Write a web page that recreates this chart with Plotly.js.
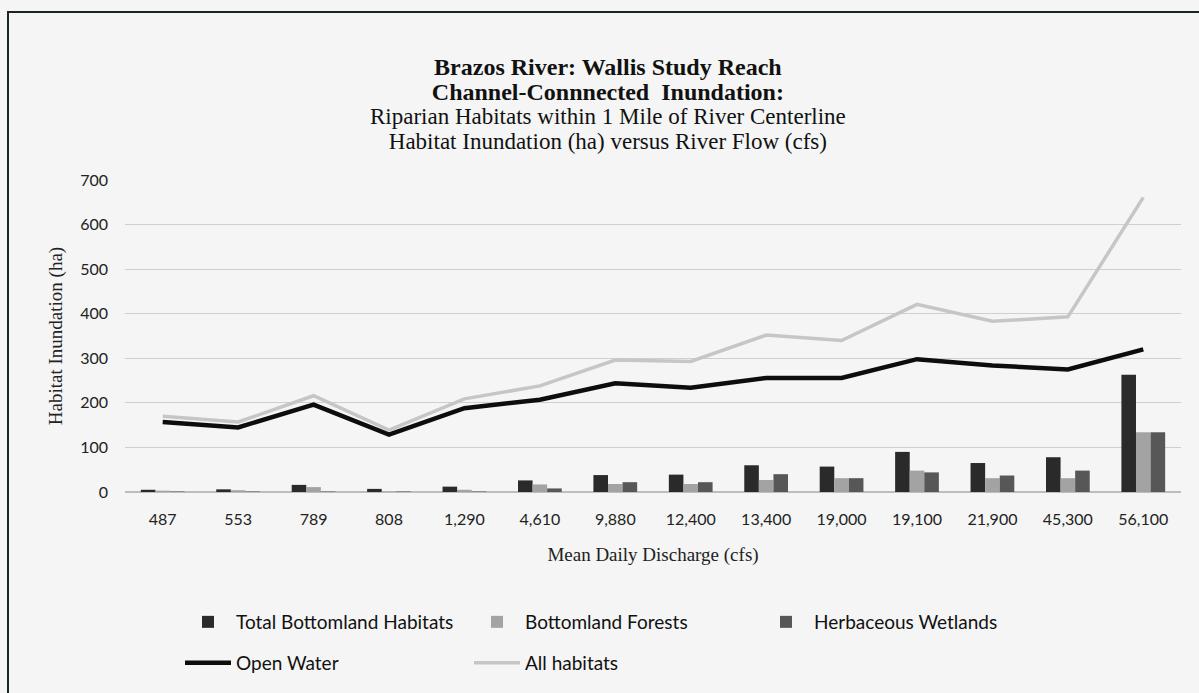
<!DOCTYPE html>
<html>
<head>
<meta charset="utf-8">
<script src="https://cdn.plot.ly/plotly-3.0.1.min.js"></script>
<style>
html,body{margin:0;padding:0;background:#f4f5f4;overflow:hidden;}
#chart{width:1199px;height:693px;}
#frame{position:absolute;left:7px;top:11px;width:1300px;height:800px;border-left:2px solid #1c2620;border-top:2px solid #1c2620;pointer-events:none;}
</style>
</head>
<body>
<div id="chart"></div>
<div id="frame"></div>
<script>
const categories = ['487','553','789','808','1,290','4,610','9,880','12,400','13,400','19,000','19,100','21,900','45,300','56,100'];
const totalBottomland = [5, 6, 16, 7, 12, 26, 38, 39, 60, 57, 90, 65, 78, 263];
const bottomlandForests = [3, 4, 11, 1, 5, 17, 18, 18, 27, 31, 48, 31, 31, 134];
const herbaceousWetlands = [1, 1, 1, 1, 1, 8, 22, 22, 40, 31, 44, 37, 48, 134];
const openWater = [157, 145, 196, 129, 188, 207, 244, 234, 256, 256, 298, 284, 275, 320];
const allHabitats = [170, 157, 216, 139, 209, 238, 296, 293, 352, 340, 421, 383, 393, 661];

const traces = [
  {type:'bar', name:'Total Bottomland Habitats', x:categories, y:totalBottomland,
   marker:{color:'#2a2a2a'}, legend:'legend'},
  {type:'bar', name:'Bottomland Forests', x:categories, y:bottomlandForests,
   marker:{color:'#a3a3a3'}, legend:'legend'},
  {type:'bar', name:'Herbaceous Wetlands', x:categories, y:herbaceousWetlands,
   marker:{color:'#575757'}, legend:'legend'},
  {type:'scatter', mode:'lines', name:'Open Water', x:categories, y:openWater,
   line:{color:'#0d0d0d', width:4.5}, legend:'legend2'},
  {type:'scatter', mode:'lines', name:'All habitats', x:categories, y:allHabitats,
   line:{color:'#c6c6c6', width:3.5}, legend:'legend2'}
];

const serif = 'Liberation Serif, Times New Roman, serif';
const sans = 'Lato, Carlito, Calibri, sans-serif';

const titleLines = [
  '<span style="font-size:24px"><b>Brazos River: Wallis Study Reach</b></span>',
  '<span style="font-size:24px"><b>Channel-Connnected  Inundation:</b></span>',
  '<span style="font-size:23px">Riparian Habitats within 1 Mile of River Centerline</span>',
  '<span style="font-size:23px">Habitat Inundation (ha) versus River Flow (cfs)</span>'
];

const layout = {
  width:1199, height:693,
  paper_bgcolor:'#f4f5f4', plot_bgcolor:'#f4f5f4',
  margin:{l:125, r:18, t:180, b:200},
  barmode:'group', bargap:0.42, bargroupgap:0,
  title:{
    text:titleLines.join('<br>'),
    font:{family:serif, size:19, color:'#111'},
    x:0.507, xref:'container', xanchor:'center',
    y:1-75/693, yref:'container', yanchor:'top'
  },
  xaxis:{
    type:'category',
    tickfont:{family:sans, size:16, color:'#222'},
    showgrid:false, ticks:'', showline:false, ticklabelstandoff:16,
    title:{text:'Mean Daily Discharge (cfs)', font:{family:serif, size:19, color:'#222'}, standoff:20}
  },
  yaxis:{
    range:[0,700], dtick:100,
    tickfont:{family:sans, size:16, color:'#222'},
    gridcolor:'#cfcfcf', gridwidth:1,
    zeroline:true, zerolinecolor:'#bdbdbd', zerolinewidth:1.5,
    ticks:'', showline:false, ticklabelstandoff:16,
    title:{text:'Habitat Inundation (ha)', font:{family:serif, size:19, color:'#222'}, standoff:12}
  },
  legend:{
    orientation:'h', x:(180-125)/1056, xref:'paper', xanchor:'left', y:(493-622)/313, yanchor:'middle',
    font:{family:sans, size:19, color:'#111'},
    bgcolor:'rgba(0,0,0,0)', itemwidth:46, entrywidthmode:'pixels', entrywidth:228,
    traceorder:'normal'
  },
  legend2:{
    orientation:'h', x:(180-125)/1056, xref:'paper', xanchor:'left', y:(493-663)/313, yanchor:'middle',
    font:{family:sans, size:19, color:'#111'},
    bgcolor:'rgba(0,0,0,0)', itemwidth:46, entrywidthmode:'pixels', entrywidth:228,
    traceorder:'normal'
  },
  showlegend:true
};

Plotly.newPlot('chart', traces, layout, {displayModeBar:false, staticPlot:true});
</script>
</body>
</html>
